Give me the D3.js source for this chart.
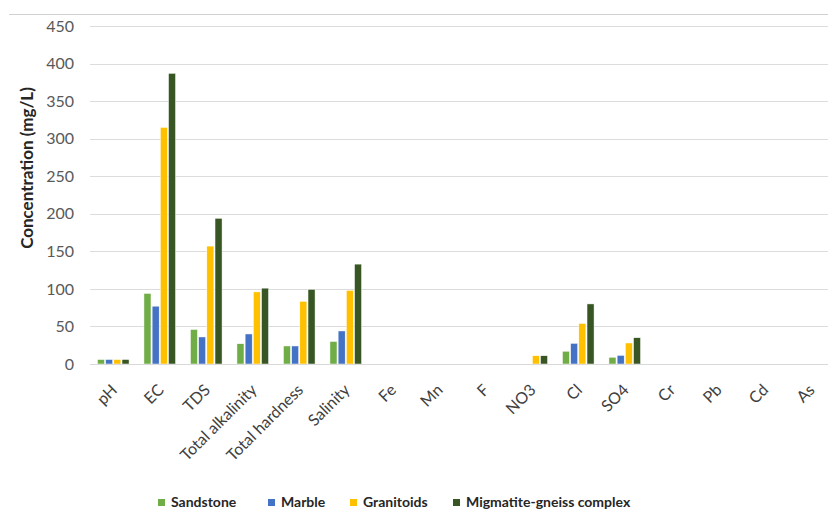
<!DOCTYPE html>
<html>
<head>
<meta charset="utf-8">
<script src="https://cdn.jsdelivr.net/npm/d3@7"></script>
<style>
  html, body { margin: 0; padding: 0; background: #fff; }
  svg { display: block; font-family: Lato, "Open Sans", sans-serif; }
</style>
</head>
<body>
<svg id="chart" width="828" height="513"></svg>
<script>
// Water-quality parameters measured per lithology
const categories = ["pH", "EC", "TDS", "Total alkalinity", "Total hardness", "Salinity",
  "Fe", "Mn", "F", "NO3", "Cl", "SO4", "Cr", "Pb", "Cd", "As"];
const seriesNames = ["Sandstone", "Marble", "Granitoids", "Migmatite-gneiss complex"];
const sandstone  = [6, 94, 46, 27, 24, 30, 0, 0, 0, 0, 17, 9, 0, 0, 0, 0];
const marble     = [6, 77, 36, 40, 24, 44, 0, 0, 0, 0, 27.5, 11.5, 0, 0, 0, 0];
const granitoids = [6, 315, 157, 96, 83.5, 98, 0, 0, 0, 11, 54, 28, 0, 0, 0, 0];
const migmatite  = [6, 387, 194, 101, 99.5, 133, 0, 0, 0, 11, 80, 35, 0, 0, 0, 0];
const yTicks = [0, 50, 100, 150, 200, 250, 300, 350, 400, 450];
const colors = ["#70AD47", "#4472C4", "#FFC000", "#375623"];

const seriesValues = [sandstone, marble, granitoids, migmatite];

const svg = d3.select("#chart");
const plot = { left: 90, right: 834, top: 26, bottom: 364 };

const x = d3.scaleBand().domain(categories).range([plot.left, plot.right]).paddingInner(0.32).paddingOuter(0.16);
const xs = d3.scaleBand().domain(d3.range(seriesNames.length)).range([0, x.bandwidth()]).paddingInner(0.14);
const y = d3.scaleLinear().domain([0, 450]).range([plot.bottom, plot.top]);

// thin rule across the top
svg.append("line")
  .attr("x1", 9).attr("x2", 828).attr("y1", 14.5).attr("y2", 14.5)
  .attr("stroke", "#d0d0d0").attr("stroke-width", 1.2);

// horizontal gridlines
svg.append("g")
  .selectAll("line")
  .data(yTicks.filter(d => d > 0))
  .join("line")
  .attr("x1", plot.left).attr("x2", 828)
  .attr("y1", d => Math.round(y(d)) + 0.5).attr("y2", d => Math.round(y(d)) + 0.5)
  .attr("stroke", "#dcdcdc").attr("stroke-width", 1);

// y axis (labels only)
const yAxis = svg.append("g")
  .attr("transform", `translate(${plot.left},0)`)
  .call(d3.axisLeft(y).tickValues(yTicks).tickSize(0).tickPadding(16));
yAxis.select(".domain").remove();
yAxis.selectAll("text")
  .attr("fill", "#595959")
  .style("font-size", "16px")
  .style("font-family", "Lato, sans-serif");

// bars
const groups = svg.append("g")
  .selectAll("g")
  .data(categories)
  .join("g")
  .attr("transform", d => `translate(${x(d)},0)`);

groups.selectAll("rect")
  .data((c, i) => seriesValues.map((vals, s) => ({ s, v: vals[i] })))
  .join("rect")
  .attr("x", d => xs(d.s))
  .attr("width", xs.bandwidth())
  .attr("y", d => y(d.v))
  .attr("height", d => y(0) - y(d.v))
  .attr("fill", d => colors[d.s])
  .attr("stroke", "#ffffff")
  .attr("stroke-width", 0.5);

// baseline
svg.append("line")
  .attr("x1", plot.left).attr("x2", 828)
  .attr("y1", plot.bottom + 0.5).attr("y2", plot.bottom + 0.5)
  .attr("stroke", "#d9d9d9").attr("stroke-width", 1.2);

// category labels, slanted
const xAxis = svg.append("g")
  .attr("transform", `translate(0,${plot.bottom})`)
  .call(d3.axisBottom(x).tickSize(0).tickPadding(0));
xAxis.select(".domain").remove();
xAxis.selectAll("text")
  .attr("fill", "#404040")
  .style("font-size", "16px")
  .style("font-family", "Lato, sans-serif")
  .attr("text-anchor", "end")
  .attr("dy", "0")
  .attr("y", 0)
  .attr("transform", "translate(5,27) rotate(-45)");

// y axis title
svg.append("text")
  .attr("transform", `translate(33,168) rotate(-90)`)
  .attr("text-anchor", "middle")
  .attr("fill", "#262626")
  .style("font-size", "17px")
  .style("font-weight", "bold")
  .text("Concentration (mg/L)");

// legend
const legendX = [158, 268, 350, 453];
const legend = svg.append("g")
  .selectAll("g")
  .data(seriesNames)
  .join("g")
  .attr("transform", (d, i) => `translate(${legendX[i]},499)`);
legend.append("rect")
  .attr("width", 7).attr("height", 7)
  .attr("fill", (d, i) => colors[i]);
legend.append("text")
  .attr("x", 13).attr("y", 3.5).attr("dy", "0.35em")
  .attr("fill", "#262626")
  .style("font-size", "14px")
  .style("font-weight", "bold")
  .text(d => d);
</script>
</body>
</html>
